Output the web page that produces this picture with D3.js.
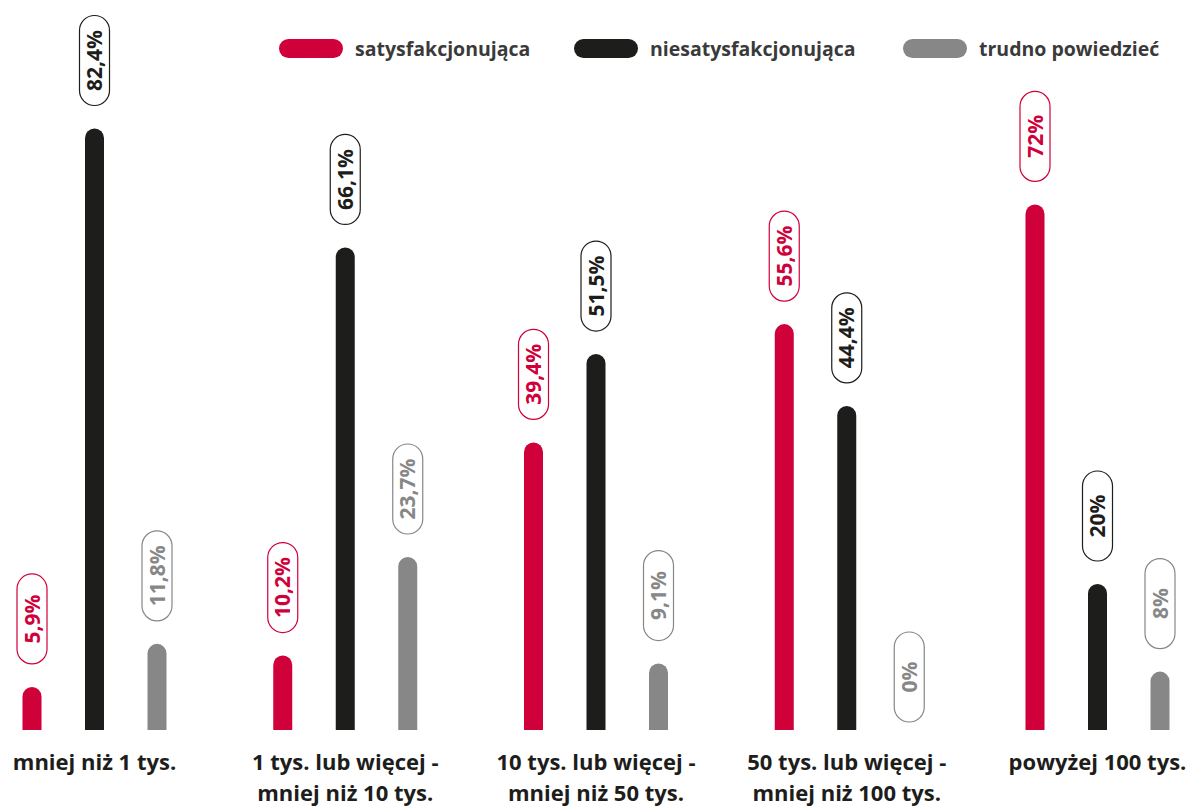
<!DOCTYPE html>
<html lang="pl">
<head>
<meta charset="utf-8">
<script src="https://cdn.jsdelivr.net/npm/d3@7/dist/d3.min.js"></script>
<style>
  html, body { margin: 0; padding: 0; background: #fff; }
  svg { display: block; font-family: "Open Sans", Lato, sans-serif; }
</style>
</head>
<body>
<svg id="chart" width="1198" height="810"></svg>
<script>
// Categories (population size) and series
const categories = [
  ["mniej niż 1 tys."],
  ["1 tys. lub więcej -", "mniej niż 10 tys."],
  ["10 tys. lub więcej -", "mniej niż 50 tys."],
  ["50 tys. lub więcej -", "mniej niż 100 tys."],
  ["powyżej 100 tys."]
];
const seriesNames = ["satysfakcjonująca", "niesatysfakcjonująca", "trudno powiedzieć"];
const seriesColors = ["#d0003a", "#1d1d1b", "#878787"];

// Values in percent, one array per series
const satysfakcjonujaca   = [5.9, 10.2, 39.4, 55.6, 72];
const niesatysfakcjonujaca = [82.4, 66.1, 51.5, 44.4, 20];
const trudnoPowiedziec    = [11.8, 23.7, 9.1, 0, 8];

// Value labels as printed
const labelsS = ["5,9%", "10,2%", "39,4%", "55,6%", "72%"];
const labelsN = ["82,4%", "66,1%", "51,5%", "44,4%", "20%"];
const labelsT = ["11,8%", "23,7%", "9,1%", "0%", "8%"];

const seriesValues = [satysfakcjonujaca, niesatysfakcjonujaca, trudnoPowiedziec];
const seriesLabels = [labelsS, labelsN, labelsT];

const svg = d3.select("#chart");
const baseline = 730;
const barW = 19;

const x0 = d3.scalePoint().domain(d3.range(categories.length)).range([94.5, 1097.5]);
const x1 = d3.scalePoint().domain(d3.range(seriesNames.length)).range([-62.5, 62.5]);
const y = d3.scaleLinear().domain([0, 100]).range([baseline, 0]);

const rows = [];
seriesValues.forEach((vals, s) => {
  vals.forEach((v, c) => rows.push({ s, c, v, label: seriesLabels[s][c] }));
});

// Bar with rounded top and flat bottom
function barPath(d) {
  const cx = x0(d.c) + x1(d.s);
  const top = y(d.v);
  const r = barW / 2;
  const h = baseline - top;
  if (h <= 0) return "";
  const rr = Math.min(r, h);
  return `M${cx - r},${baseline} L${cx - r},${top + rr} A${r},${rr} 0 0 1 ${cx + r},${top + rr} L${cx + r},${baseline} Z`;
}

svg.append("g").selectAll("path")
  .data(rows)
  .join("path")
  .attr("d", barPath)
  .attr("fill", d => seriesColors[d.s]);

// Pill labels above bars, rotated text
const pillW = 30, pillH = 90;
const pills = svg.append("g").selectAll("g")
  .data(rows)
  .join("g")
  .attr("transform", d => {
    const cx = x0(d.c) + x1(d.s);
    const gap = d.v > 0 ? 23 : 8;
    const cy = y(d.v) - gap - pillH / 2;
    return `translate(${cx},${cy})`;
  });

pills.append("rect")
  .attr("x", -pillW / 2).attr("y", -pillH / 2)
  .attr("width", pillW).attr("height", pillH)
  .attr("rx", pillW / 2).attr("ry", pillW / 2)
  .attr("fill", "#fff")
  .attr("stroke", d => seriesColors[d.s])
  .attr("stroke-width", 1.2);

pills.append("text")
  .attr("transform", "rotate(-90)")
  .attr("text-anchor", "middle")
  .attr("dy", "0.36em")
  .attr("font-size", 21)
  .attr("font-weight", 700)
  .attr("fill", d => seriesColors[d.s])
  .text(d => d.label);

// Category labels
const catG = svg.append("g").selectAll("text")
  .data(categories)
  .join("text")
  .attr("x", (d, i) => x0(i))
  .attr("y", 770)
  .attr("text-anchor", "middle")
  .attr("font-size", 22)
  .attr("font-weight", 700)
  .attr("fill", "#1d1d1b");
catG.selectAll("tspan")
  .data((d, i) => d.map(line => ({ line, i })))
  .join("tspan")
  .attr("x", d => x0(d.i))
  .attr("dy", (d, j) => j === 0 ? 0 : 31)
  .text(d => d.line);

// Legend
const legendX = [279, 574, 903];
const legend = svg.append("g").selectAll("g")
  .data(seriesNames)
  .join("g")
  .attr("transform", (d, i) => `translate(${legendX[i]},39)`);
legend.append("rect")
  .attr("width", 64).attr("height", 19)
  .attr("rx", 9.5).attr("ry", 9.5)
  .attr("fill", (d, i) => seriesColors[i]);
legend.append("text")
  .attr("x", 76).attr("y", 9.5)
  .attr("dy", "0.36em")
  .attr("font-size", 19.5)
  .attr("font-weight", 700)
  .attr("fill", "#3a3a3a")
  .text(d => d);
</script>
</body>
</html>
